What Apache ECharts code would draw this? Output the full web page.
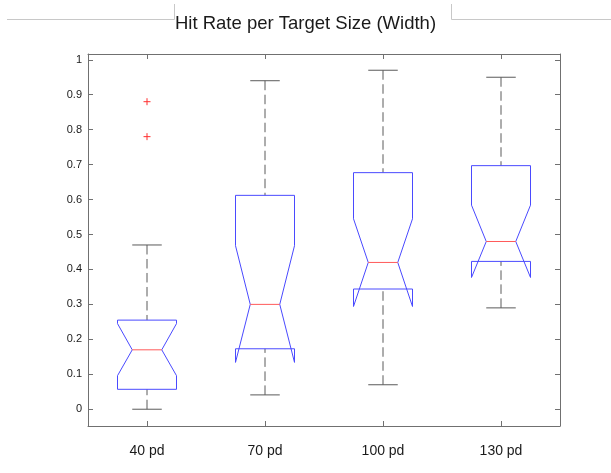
<!DOCTYPE html>
<html>
<head>
<meta charset="utf-8">
<script src="https://cdn.jsdelivr.net/npm/echarts@6/dist/echarts.min.js"></script>
<style>
  html, body { margin: 0; padding: 0; background: #fff; }
  #chart { width: 611px; height: 473px; }
</style>
</head>
<body>
<div id="chart"></div>
<script>
// Hit rate per target size: notched box plots (four widths)
const categories   = ['40 pd', '70 pd', '100 pd', '130 pd'];
const upperWhisker = [0.47, 0.94, 0.97, 0.95];
const q3           = [0.255, 0.612, 0.677, 0.697];
const notchHigh    = [0.245, 0.468, 0.545, 0.584];
const medians      = [0.17, 0.30, 0.42, 0.48];
const notchLow     = [0.096, 0.134, 0.294, 0.377];
const q1           = [0.057, 0.173, 0.344, 0.423];
const lowerWhisker = [0.0, 0.041, 0.07, 0.29];
// outliers: category index and value
const outlierCategory = [0, 0];
const outlierValues   = [0.88, 0.78];
// y tick labels
const yTicks = [0, 0.1, 0.2, 0.3, 0.4, 0.5, 0.6, 0.7, 0.8, 0.9, 1];

const Y_MIN = -0.048, Y_MAX = 1.0165;

const boxData = categories.map((c, i) => [
  i, lowerWhisker[i], q1[i], notchLow[i], medians[i], notchHigh[i], q3[i], upperWhisker[i]
]);
const outlierData = outlierValues.map((v, i) => [outlierCategory[i], v]);

const BOX_COLOR = '#4a4aff';
const MED_COLOR = '#ff5a5a';
const WHISK_COLOR = '#5a5a5a';

function renderBox(params, api) {
  const idx = api.value(0);
  const band = api.size([1, 0])[0];
  const half = band * 0.25;       // box half-width
  const notchHalf = band * 0.125; // notch half-width at median
  const capHalf = band * 0.125;   // whisker cap half-width
  const cx = api.coord([idx, 0])[0];
  const y = (k) => api.coord([idx, api.value(k)])[1];
  const yLw = y(1), yQ1 = y(2), yNL = y(3), yMed = y(4), yNH = y(5), yQ3 = y(6), yUw = y(7);
  const L = cx - half, R = cx + half, NL = cx - notchHalf, NR = cx + notchHalf;
  const dash = { stroke: WHISK_COLOR, lineWidth: 1, lineDash: [9.5, 4.5], fill: null };
  const solid = { stroke: WHISK_COLOR, lineWidth: 1, fill: null };
  return {
    type: 'group',
    children: [
      { type: 'line', shape: { x1: cx, y1: yUw, x2: cx, y2: yQ3 }, style: dash },
      { type: 'line', shape: { x1: cx, y1: yLw, x2: cx, y2: yQ1 }, style: dash },
      { type: 'line', shape: { x1: cx - capHalf, y1: yUw, x2: cx + capHalf, y2: yUw }, style: solid },
      { type: 'line', shape: { x1: cx - capHalf, y1: yLw, x2: cx + capHalf, y2: yLw }, style: solid },
      {
        type: 'polygon',
        shape: { points: [
          [L, yQ1], [L, yNL], [NL, yMed], [L, yNH], [L, yQ3],
          [R, yQ3], [R, yNH], [NR, yMed], [R, yNL], [R, yQ1]
        ] },
        style: { stroke: BOX_COLOR, lineWidth: 1, fill: null }
      },
      { type: 'line', shape: { x1: NL, y1: yMed, x2: NR, y2: yMed }, style: { stroke: MED_COLOR, lineWidth: 1 } }
    ]
  };
}

function renderOutlier(params, api) {
  const p = api.coord([api.value(0), api.value(1)]);
  const s = 3.5;
  const st = { stroke: '#ff3030', lineWidth: 1 };
  return {
    type: 'group',
    children: [
      { type: 'line', shape: { x1: p[0] - s, y1: p[1], x2: p[0] + s, y2: p[1] }, style: st },
      { type: 'line', shape: { x1: p[0], y1: p[1] - s, x2: p[0], y2: p[1] + s }, style: st }
    ]
  };
}

const AXIS_COLOR = '#707070';
const TEXT_COLOR = '#1a1a1a';
const FONT = '"Liberation Sans", Arial, Helvetica, sans-serif';

const chart = echarts.init(document.getElementById('chart'), null, { renderer: 'canvas' });
chart.setOption({
  animation: false,
  backgroundColor: '#ffffff',
  title: {
    text: 'Hit Rate per Target Size (Width)',
    left: 'center',
    top: 9,
    textStyle: { fontFamily: FONT, fontSize: 18.5, fontWeight: 'normal', color: TEXT_COLOR }
  },
  graphic: [
    { type: 'polyline', silent: true, shape: { points: [[7, 19.5], [174.5, 19.5], [174.5, 4]] },
      style: { stroke: '#c8c8c8', lineWidth: 1, fill: null } },
    { type: 'polyline', silent: true, shape: { points: [[451.5, 4], [451.5, 19.5], [611, 19.5]] },
      style: { stroke: '#c8c8c8', lineWidth: 1, fill: null } }
  ],
  grid: { left: 88, right: 51, top: 54, bottom: 47, containLabel: false },
  xAxis: [
    {
      type: 'category', data: categories, position: 'bottom',
      axisLine: { show: true, onZero: false, lineStyle: { color: AXIS_COLOR, width: 1 } },
      axisTick: { show: true, inside: true, length: 5, alignWithLabel: true, lineStyle: { color: AXIS_COLOR } },
      axisLabel: { margin: 18, fontFamily: FONT, fontSize: 14, color: TEXT_COLOR },
      splitLine: { show: false }
    },
    {
      type: 'category', data: categories, position: 'top',
      axisLine: { show: true, onZero: false, lineStyle: { color: AXIS_COLOR, width: 1 } },
      axisTick: { show: true, inside: true, length: 5, alignWithLabel: true, lineStyle: { color: AXIS_COLOR } },
      axisLabel: { show: false },
      splitLine: { show: false }
    }
  ],
  yAxis: [
    {
      type: 'value', min: Y_MIN, max: Y_MAX, position: 'left',
      axisLine: { show: true, onZero: false, lineStyle: { color: AXIS_COLOR, width: 1 } },
      axisTick: { show: true, inside: true, length: 5, customValues: yTicks, lineStyle: { color: AXIS_COLOR } },
      axisLabel: { show: true, margin: 6, customValues: yTicks, fontFamily: FONT, fontSize: 11, color: TEXT_COLOR },
      splitLine: { show: false }
    },
    {
      type: 'value', min: Y_MIN, max: Y_MAX, position: 'right',
      axisLine: { show: true, onZero: false, lineStyle: { color: AXIS_COLOR, width: 1 } },
      axisTick: { show: true, inside: true, length: 5, customValues: yTicks, lineStyle: { color: AXIS_COLOR } },
      axisLabel: { show: false },
      splitLine: { show: false }
    }
  ],
  series: [
    { type: 'custom', name: 'box', xAxisIndex: 0, yAxisIndex: 0, renderItem: renderBox, data: boxData, encode: { x: 0, y: [1, 2, 3, 4, 5, 6, 7] } },
    { type: 'custom', name: 'outliers', xAxisIndex: 0, yAxisIndex: 0, renderItem: renderOutlier, data: outlierData, encode: { x: 0, y: 1 } }
  ]
});
</script>
</body>
</html>
